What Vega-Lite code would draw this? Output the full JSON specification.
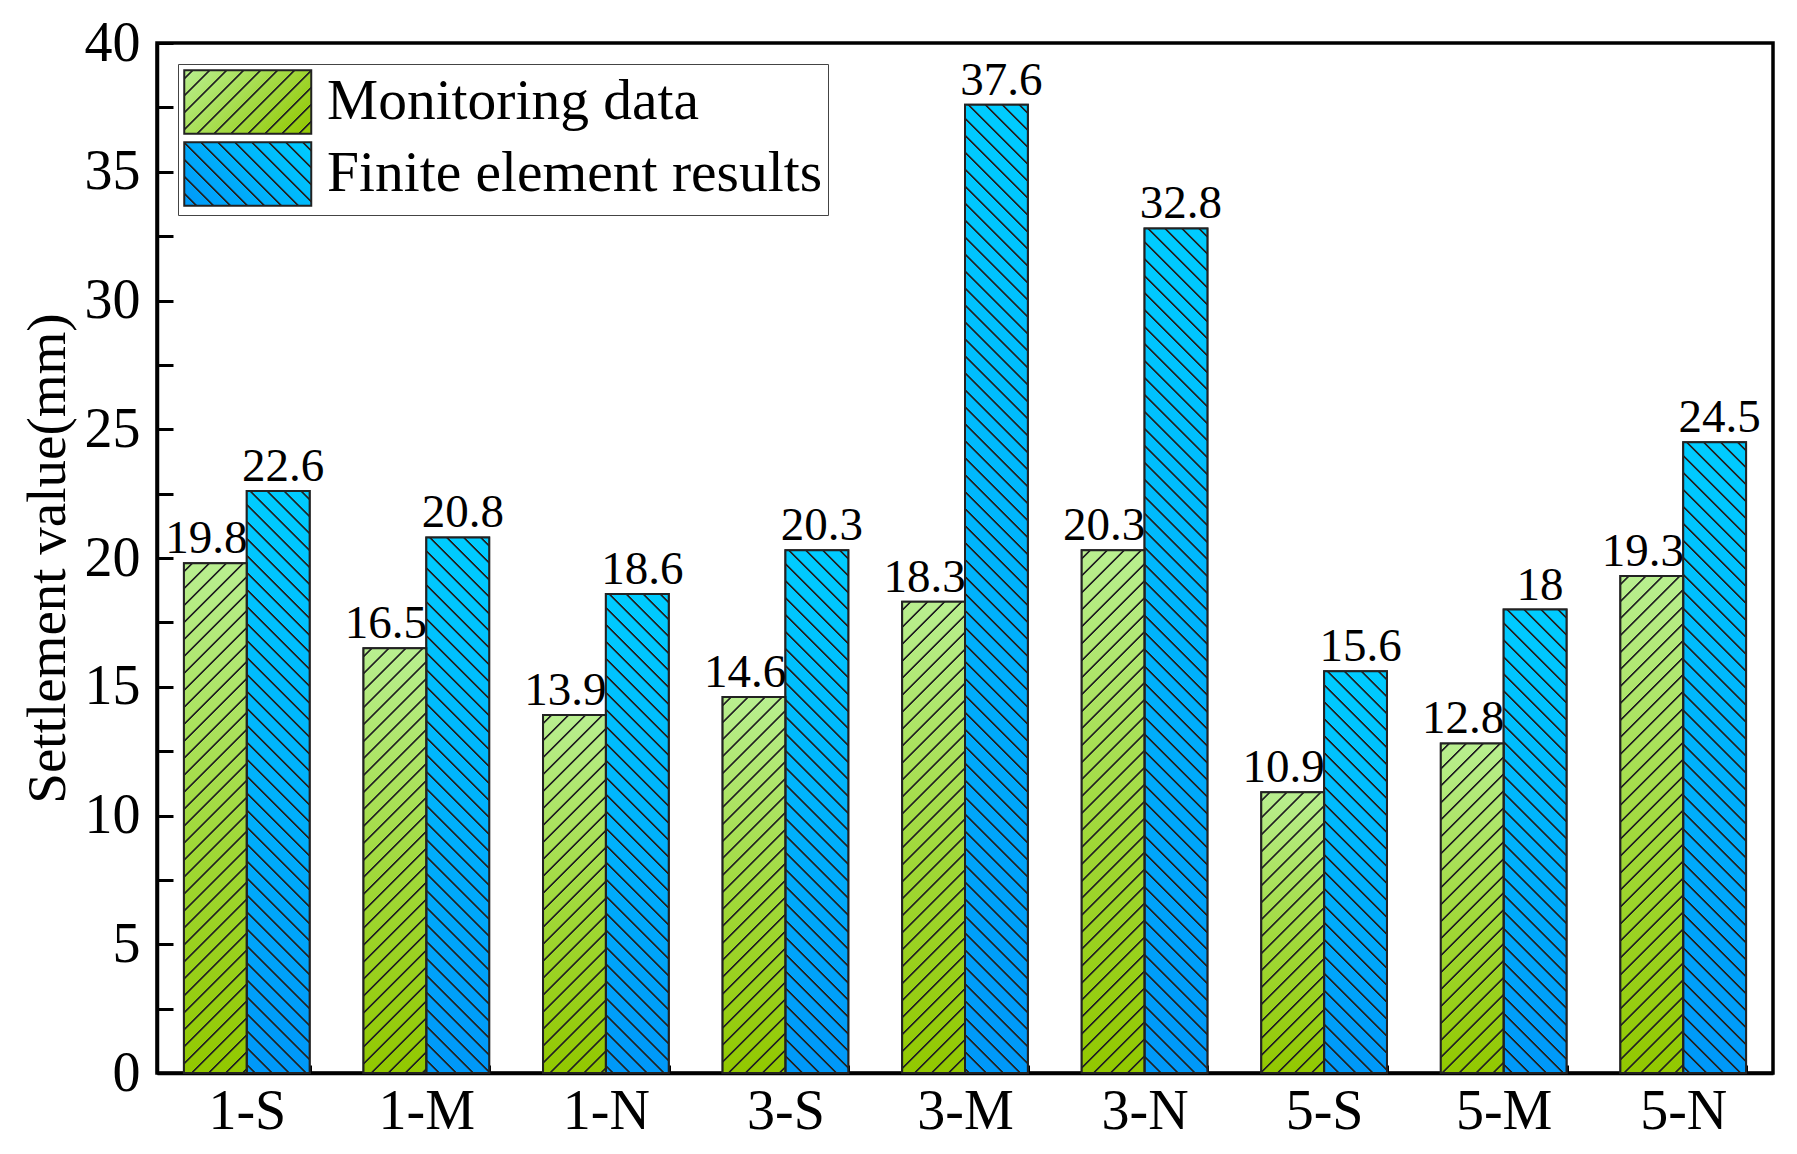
{
 "$schema": "https://vega.github.io/schema/vega-lite/v6.json",
 "width": 1616, "height": 1030,
 "autosize": {"type": "none"},
 "padding": {"left": 157, "top": 43, "right": 24, "bottom": 81},
 "background": "white",
 "config": {"font": "Liberation Serif", "view": {"stroke": "black", "strokeWidth": 3.5}},
 "params": [
  {"name": "hs", "value": [
{"offset":0.006,"color":"#2220"},{"offset":0.0069,"color":"#222"},{"offset":0.0081,"color":"#222"},{"offset":0.009,"color":"#2220"},
{"offset":0.021,"color":"#2220"},{"offset":0.0219,"color":"#222"},{"offset":0.0231,"color":"#222"},{"offset":0.024,"color":"#2220"},
{"offset":0.036,"color":"#2220"},{"offset":0.0369,"color":"#222"},{"offset":0.0381,"color":"#222"},{"offset":0.039,"color":"#2220"},
{"offset":0.051,"color":"#2220"},{"offset":0.0519,"color":"#222"},{"offset":0.0531,"color":"#222"},{"offset":0.054,"color":"#2220"},
{"offset":0.066,"color":"#2220"},{"offset":0.0669,"color":"#222"},{"offset":0.0681,"color":"#222"},{"offset":0.069,"color":"#2220"},
{"offset":0.081,"color":"#2220"},{"offset":0.0819,"color":"#222"},{"offset":0.0831,"color":"#222"},{"offset":0.084,"color":"#2220"},
{"offset":0.096,"color":"#2220"},{"offset":0.0969,"color":"#222"},{"offset":0.0981,"color":"#222"},{"offset":0.099,"color":"#2220"},
{"offset":0.111,"color":"#2220"},{"offset":0.1119,"color":"#222"},{"offset":0.1131,"color":"#222"},{"offset":0.114,"color":"#2220"},
{"offset":0.126,"color":"#2220"},{"offset":0.1269,"color":"#222"},{"offset":0.1281,"color":"#222"},{"offset":0.129,"color":"#2220"},
{"offset":0.141,"color":"#2220"},{"offset":0.1419,"color":"#222"},{"offset":0.1431,"color":"#222"},{"offset":0.144,"color":"#2220"},
{"offset":0.156,"color":"#2220"},{"offset":0.1569,"color":"#222"},{"offset":0.1581,"color":"#222"},{"offset":0.159,"color":"#2220"},
{"offset":0.171,"color":"#2220"},{"offset":0.1719,"color":"#222"},{"offset":0.1731,"color":"#222"},{"offset":0.174,"color":"#2220"},
{"offset":0.186,"color":"#2220"},{"offset":0.1869,"color":"#222"},{"offset":0.1881,"color":"#222"},{"offset":0.189,"color":"#2220"},
{"offset":0.201,"color":"#2220"},{"offset":0.2019,"color":"#222"},{"offset":0.2031,"color":"#222"},{"offset":0.204,"color":"#2220"},
{"offset":0.216,"color":"#2220"},{"offset":0.2169,"color":"#222"},{"offset":0.2181,"color":"#222"},{"offset":0.219,"color":"#2220"},
{"offset":0.231,"color":"#2220"},{"offset":0.2319,"color":"#222"},{"offset":0.2331,"color":"#222"},{"offset":0.234,"color":"#2220"},
{"offset":0.246,"color":"#2220"},{"offset":0.2469,"color":"#222"},{"offset":0.2481,"color":"#222"},{"offset":0.249,"color":"#2220"},
{"offset":0.261,"color":"#2220"},{"offset":0.2619,"color":"#222"},{"offset":0.2631,"color":"#222"},{"offset":0.264,"color":"#2220"},
{"offset":0.276,"color":"#2220"},{"offset":0.2769,"color":"#222"},{"offset":0.2781,"color":"#222"},{"offset":0.279,"color":"#2220"},
{"offset":0.291,"color":"#2220"},{"offset":0.2919,"color":"#222"},{"offset":0.2931,"color":"#222"},{"offset":0.294,"color":"#2220"},
{"offset":0.306,"color":"#2220"},{"offset":0.3069,"color":"#222"},{"offset":0.3081,"color":"#222"},{"offset":0.309,"color":"#2220"},
{"offset":0.321,"color":"#2220"},{"offset":0.3219,"color":"#222"},{"offset":0.3231,"color":"#222"},{"offset":0.324,"color":"#2220"},
{"offset":0.336,"color":"#2220"},{"offset":0.3369,"color":"#222"},{"offset":0.3381,"color":"#222"},{"offset":0.339,"color":"#2220"},
{"offset":0.351,"color":"#2220"},{"offset":0.3519,"color":"#222"},{"offset":0.3531,"color":"#222"},{"offset":0.354,"color":"#2220"},
{"offset":0.366,"color":"#2220"},{"offset":0.3669,"color":"#222"},{"offset":0.3681,"color":"#222"},{"offset":0.369,"color":"#2220"},
{"offset":0.381,"color":"#2220"},{"offset":0.3819,"color":"#222"},{"offset":0.3831,"color":"#222"},{"offset":0.384,"color":"#2220"},
{"offset":0.396,"color":"#2220"},{"offset":0.3969,"color":"#222"},{"offset":0.3981,"color":"#222"},{"offset":0.399,"color":"#2220"},
{"offset":0.411,"color":"#2220"},{"offset":0.4119,"color":"#222"},{"offset":0.4131,"color":"#222"},{"offset":0.414,"color":"#2220"},
{"offset":0.426,"color":"#2220"},{"offset":0.4269,"color":"#222"},{"offset":0.4281,"color":"#222"},{"offset":0.429,"color":"#2220"},
{"offset":0.441,"color":"#2220"},{"offset":0.4419,"color":"#222"},{"offset":0.4431,"color":"#222"},{"offset":0.444,"color":"#2220"},
{"offset":0.456,"color":"#2220"},{"offset":0.4569,"color":"#222"},{"offset":0.4581,"color":"#222"},{"offset":0.459,"color":"#2220"},
{"offset":0.471,"color":"#2220"},{"offset":0.4719,"color":"#222"},{"offset":0.4731,"color":"#222"},{"offset":0.474,"color":"#2220"},
{"offset":0.486,"color":"#2220"},{"offset":0.4869,"color":"#222"},{"offset":0.4881,"color":"#222"},{"offset":0.489,"color":"#2220"},
{"offset":0.501,"color":"#2220"},{"offset":0.5019,"color":"#222"},{"offset":0.5031,"color":"#222"},{"offset":0.504,"color":"#2220"},
{"offset":0.516,"color":"#2220"},{"offset":0.5169,"color":"#222"},{"offset":0.5181,"color":"#222"},{"offset":0.519,"color":"#2220"},
{"offset":0.531,"color":"#2220"},{"offset":0.5319,"color":"#222"},{"offset":0.5331,"color":"#222"},{"offset":0.534,"color":"#2220"},
{"offset":0.546,"color":"#2220"},{"offset":0.5469,"color":"#222"},{"offset":0.5481,"color":"#222"},{"offset":0.549,"color":"#2220"},
{"offset":0.561,"color":"#2220"},{"offset":0.5619,"color":"#222"},{"offset":0.5631,"color":"#222"},{"offset":0.564,"color":"#2220"},
{"offset":0.576,"color":"#2220"},{"offset":0.5769,"color":"#222"},{"offset":0.5781,"color":"#222"},{"offset":0.579,"color":"#2220"},
{"offset":0.591,"color":"#2220"},{"offset":0.5919,"color":"#222"},{"offset":0.5931,"color":"#222"},{"offset":0.594,"color":"#2220"},
{"offset":0.606,"color":"#2220"},{"offset":0.6069,"color":"#222"},{"offset":0.6081,"color":"#222"},{"offset":0.609,"color":"#2220"},
{"offset":0.621,"color":"#2220"},{"offset":0.6219,"color":"#222"},{"offset":0.6231,"color":"#222"},{"offset":0.624,"color":"#2220"},
{"offset":0.636,"color":"#2220"},{"offset":0.6369,"color":"#222"},{"offset":0.6381,"color":"#222"},{"offset":0.639,"color":"#2220"},
{"offset":0.651,"color":"#2220"},{"offset":0.6519,"color":"#222"},{"offset":0.6531,"color":"#222"},{"offset":0.654,"color":"#2220"},
{"offset":0.666,"color":"#2220"},{"offset":0.6669,"color":"#222"},{"offset":0.6681,"color":"#222"},{"offset":0.669,"color":"#2220"},
{"offset":0.681,"color":"#2220"},{"offset":0.6819,"color":"#222"},{"offset":0.6831,"color":"#222"},{"offset":0.684,"color":"#2220"},
{"offset":0.696,"color":"#2220"},{"offset":0.6969,"color":"#222"},{"offset":0.6981,"color":"#222"},{"offset":0.699,"color":"#2220"},
{"offset":0.711,"color":"#2220"},{"offset":0.7119,"color":"#222"},{"offset":0.7131,"color":"#222"},{"offset":0.714,"color":"#2220"},
{"offset":0.726,"color":"#2220"},{"offset":0.7269,"color":"#222"},{"offset":0.7281,"color":"#222"},{"offset":0.729,"color":"#2220"},
{"offset":0.741,"color":"#2220"},{"offset":0.7419,"color":"#222"},{"offset":0.7431,"color":"#222"},{"offset":0.744,"color":"#2220"},
{"offset":0.756,"color":"#2220"},{"offset":0.7569,"color":"#222"},{"offset":0.7581,"color":"#222"},{"offset":0.759,"color":"#2220"},
{"offset":0.771,"color":"#2220"},{"offset":0.7719,"color":"#222"},{"offset":0.7731,"color":"#222"},{"offset":0.774,"color":"#2220"},
{"offset":0.786,"color":"#2220"},{"offset":0.7869,"color":"#222"},{"offset":0.7881,"color":"#222"},{"offset":0.789,"color":"#2220"},
{"offset":0.801,"color":"#2220"},{"offset":0.8019,"color":"#222"},{"offset":0.8031,"color":"#222"},{"offset":0.804,"color":"#2220"},
{"offset":0.816,"color":"#2220"},{"offset":0.8169,"color":"#222"},{"offset":0.8181,"color":"#222"},{"offset":0.819,"color":"#2220"},
{"offset":0.831,"color":"#2220"},{"offset":0.8319,"color":"#222"},{"offset":0.8331,"color":"#222"},{"offset":0.834,"color":"#2220"},
{"offset":0.846,"color":"#2220"},{"offset":0.8469,"color":"#222"},{"offset":0.8481,"color":"#222"},{"offset":0.849,"color":"#2220"},
{"offset":0.861,"color":"#2220"},{"offset":0.8619,"color":"#222"},{"offset":0.8631,"color":"#222"},{"offset":0.864,"color":"#2220"},
{"offset":0.876,"color":"#2220"},{"offset":0.8769,"color":"#222"},{"offset":0.8781,"color":"#222"},{"offset":0.879,"color":"#2220"},
{"offset":0.891,"color":"#2220"},{"offset":0.8919,"color":"#222"},{"offset":0.8931,"color":"#222"},{"offset":0.894,"color":"#2220"},
{"offset":0.906,"color":"#2220"},{"offset":0.9069,"color":"#222"},{"offset":0.9081,"color":"#222"},{"offset":0.909,"color":"#2220"},
{"offset":0.921,"color":"#2220"},{"offset":0.9219,"color":"#222"},{"offset":0.9231,"color":"#222"},{"offset":0.924,"color":"#2220"},
{"offset":0.936,"color":"#2220"},{"offset":0.9369,"color":"#222"},{"offset":0.9381,"color":"#222"},{"offset":0.939,"color":"#2220"},
{"offset":0.951,"color":"#2220"},{"offset":0.9519,"color":"#222"},{"offset":0.9531,"color":"#222"},{"offset":0.954,"color":"#2220"},
{"offset":0.966,"color":"#2220"},{"offset":0.9669,"color":"#222"},{"offset":0.9681,"color":"#222"},{"offset":0.969,"color":"#2220"},
{"offset":0.981,"color":"#2220"},{"offset":0.9819,"color":"#222"},{"offset":0.9831,"color":"#222"},{"offset":0.984,"color":"#2220"},
{"offset":0.996,"color":"#2220"},{"offset":0.9969,"color":"#222"},{"offset":0.9981,"color":"#222"},{"offset":0.999,"color":"#2220"}
  ]},
  {"name": "lg", "value": [
{"offset":0,"color":"#b8ee8e"},
{"offset":0.0355,"color":"#b6ec88"},{"offset":0.0407,"color":"#222"},{"offset":0.0481,"color":"#222"},{"offset":0.0533,"color":"#b6ec88"},
{"offset":0.1244,"color":"#b3e97b"},{"offset":0.1296,"color":"#222"},{"offset":0.137,"color":"#222"},{"offset":0.1422,"color":"#b3e97b"},
{"offset":0.2133,"color":"#b0e66e"},{"offset":0.2185,"color":"#222"},{"offset":0.2259,"color":"#222"},{"offset":0.2311,"color":"#b0e66e"},
{"offset":0.3022,"color":"#ace262"},{"offset":0.3074,"color":"#222"},{"offset":0.3148,"color":"#222"},{"offset":0.32,"color":"#ace262"},
{"offset":0.3911,"color":"#a9df55"},{"offset":0.3963,"color":"#222"},{"offset":0.4037,"color":"#222"},{"offset":0.4089,"color":"#a9df55"},
{"offset":0.48,"color":"#a5db49"},{"offset":0.4852,"color":"#222"},{"offset":0.4926,"color":"#222"},{"offset":0.4978,"color":"#a5db49"},
{"offset":0.5689,"color":"#a2d83c"},{"offset":0.5741,"color":"#222"},{"offset":0.5815,"color":"#222"},{"offset":0.5867,"color":"#a2d83c"},
{"offset":0.6578,"color":"#9fd52f"},{"offset":0.663,"color":"#222"},{"offset":0.6704,"color":"#222"},{"offset":0.6756,"color":"#9fd52f"},
{"offset":0.7467,"color":"#9bd123"},{"offset":0.7519,"color":"#222"},{"offset":0.7593,"color":"#222"},{"offset":0.7645,"color":"#9bd123"},
{"offset":0.8355,"color":"#98ce16"},{"offset":0.8407,"color":"#222"},{"offset":0.8481,"color":"#222"},{"offset":0.8533,"color":"#98ce16"},
{"offset":0.9244,"color":"#94ca0a"},{"offset":0.9296,"color":"#222"},{"offset":0.937,"color":"#222"},{"offset":0.9422,"color":"#94ca0a"},
{"offset":1,"color":"#92c800"}
  ]},
  {"name": "lb", "value": [
{"offset":0,"color":"#00ccff"},
{"offset":0.0355,"color":"#00caff"},{"offset":0.0407,"color":"#222"},{"offset":0.0481,"color":"#222"},{"offset":0.0533,"color":"#00caff"},
{"offset":0.1244,"color":"#00c5fe"},{"offset":0.1296,"color":"#222"},{"offset":0.137,"color":"#222"},{"offset":0.1422,"color":"#00c5fe"},
{"offset":0.2133,"color":"#00c0fd"},{"offset":0.2185,"color":"#222"},{"offset":0.2259,"color":"#222"},{"offset":0.2311,"color":"#00c0fd"},
{"offset":0.3022,"color":"#00bcfd"},{"offset":0.3074,"color":"#222"},{"offset":0.3148,"color":"#222"},{"offset":0.32,"color":"#00bcfd"},
{"offset":0.3911,"color":"#00b7fc"},{"offset":0.3963,"color":"#222"},{"offset":0.4037,"color":"#222"},{"offset":0.4089,"color":"#00b7fc"},
{"offset":0.48,"color":"#00b3fc"},{"offset":0.4852,"color":"#222"},{"offset":0.4926,"color":"#222"},{"offset":0.4978,"color":"#00b3fc"},
{"offset":0.5689,"color":"#00aefb"},{"offset":0.5741,"color":"#222"},{"offset":0.5815,"color":"#222"},{"offset":0.5867,"color":"#00aefb"},
{"offset":0.6578,"color":"#00a9fa"},{"offset":0.663,"color":"#222"},{"offset":0.6704,"color":"#222"},{"offset":0.6756,"color":"#00a9fa"},
{"offset":0.7467,"color":"#00a5fa"},{"offset":0.7519,"color":"#222"},{"offset":0.7593,"color":"#222"},{"offset":0.7645,"color":"#00a5fa"},
{"offset":0.8355,"color":"#00a0f9"},{"offset":0.8407,"color":"#222"},{"offset":0.8481,"color":"#222"},{"offset":0.8533,"color":"#00a0f9"},
{"offset":0.9244,"color":"#009cf9"},{"offset":0.9296,"color":"#222"},{"offset":0.937,"color":"#222"},{"offset":0.9422,"color":"#009cf9"},
{"offset":1,"color":"#0098f8"}
  ]}
 ],
 "data": {"values": [
  {"loc": "1-S", "s": "Monitoring data", "v": 19.8},
  {"loc": "1-S", "s": "Finite element results", "v": 22.6},
  {"loc": "1-M", "s": "Monitoring data", "v": 16.5},
  {"loc": "1-M", "s": "Finite element results", "v": 20.8},
  {"loc": "1-N", "s": "Monitoring data", "v": 13.9},
  {"loc": "1-N", "s": "Finite element results", "v": 18.6},
  {"loc": "3-S", "s": "Monitoring data", "v": 14.6},
  {"loc": "3-S", "s": "Finite element results", "v": 20.3},
  {"loc": "3-M", "s": "Monitoring data", "v": 18.3},
  {"loc": "3-M", "s": "Finite element results", "v": 37.6},
  {"loc": "3-N", "s": "Monitoring data", "v": 20.3},
  {"loc": "3-N", "s": "Finite element results", "v": 32.8},
  {"loc": "5-S", "s": "Monitoring data", "v": 10.9},
  {"loc": "5-S", "s": "Finite element results", "v": 15.6},
  {"loc": "5-M", "s": "Monitoring data", "v": 12.8},
  {"loc": "5-M", "s": "Finite element results", "v": 18},
  {"loc": "5-N", "s": "Monitoring data", "v": 19.3},
  {"loc": "5-N", "s": "Finite element results", "v": 24.5}
 ]},
 "encoding": {
  "x": {"field": "loc", "type": "nominal", "sort": null,
        "scale": {"paddingInner": 0.3, "paddingOuter": 0.15},
        "axis": {"title": null, "labelAngle": 0, "labelFont": "Liberation Serif", "labelFontSize": 56, "labelColor": "black",
                 "labelPadding": 19, "tickBand": "extent", "tickSize": -8, "tickWidth": 3, "tickColor": "black",
                 "domainColor": "black", "domainWidth": 3.5, "grid": false}},
  "xOffset": {"field": "s", "type": "nominal", "sort": null},
  "y": {"field": "v", "type": "quantitative", "scale": {"domain": [0, 40], "nice": false},
        "axis": {"title": "Settlement value(mm)", "titleFont": "Liberation Serif", "titleFontSize": 55, "titleFontWeight": "normal",
                 "titleColor": "black", "titlePadding": 8,
                 "values": [0,2.5,5,7.5,10,12.5,15,17.5,20,22.5,25,27.5,30,32.5,35,37.5,40],
                 "labelExpr": "datum.value % 5 == 0 ? '' + datum.value : ''",
                 "labelFont": "Liberation Serif", "labelFontSize": 56, "labelColor": "black", "labelPadding": 33, "labelOverlap": false,
                 "tickSize": -16, "tickWidth": 3, "tickColor": "black", "domainColor": "black", "domainWidth": 3.5, "grid": false,
                 "encode": {"ticks": {"x2": {"value": {"expr": "datum.value % 5 == 0 ? 16 : 9"}}}}}}
 },
 "layer": [
  {"mark": {"type": "bar", "stroke": "#222", "strokeWidth": 2},
   "encoding": {"fill": {"field": "s", "type": "nominal", "sort": null,
     "scale": {"range": [
       {"expr": "{gradient:'linear',x1:0,y1:0,x2:1.2027,y2:0.6013,stops:lg}"},
       {"expr": "{gradient:'linear',x1:1,y1:0,x2:-0.2027,y2:0.6013,stops:lb}"}]},
     "legend": {"title": null, "orient": "top-left", "offset": 21, "padding": 5, "rowPadding": 0,
       "fillColor": "white", "strokeColor": "#444",
       "symbolType": "M-1,-1H3V1H-1Z", "symbolSize": 4032, "symbolStrokeWidth": 2, "symbolStrokeColor": "#222", "symbolOpacity": 1,
       "labelFont": "Liberation Serif", "labelFontSize": 57.5, "labelColor": "black", "labelOffset": 78, "labelLimit": 0,
       "encode": {"legend": {"strokeWidth": {"value": 2}}}}}}},
  {"mark": {"type": "bar"},
   "encoding": {"fill": {
     "condition": {"test": "datum.s == 'Monitoring data'",
       "value": {"gradient": "linear", "x1": 0, "y1": 0, "x2": 0, "y2": 1,
         "stops": [{"offset": 0, "color": "#b9ef90"}, {"offset": 0.55, "color": "#a0d838"}, {"offset": 1, "color": "#92c800"}]}},
     "value": {"gradient": "linear", "x1": 0, "y1": 0, "x2": 0, "y2": 1,
         "stops": [{"offset": 0, "color": "#00ccff"}, {"offset": 1, "color": "#0098f8"}]}}}},
  {"mark": {"type": "bar", "stroke": "#222", "strokeWidth": 2},
   "encoding": {"fill": {"value": {"expr": "datum.s == 'Monitoring data' ? {gradient:'linear',x1:0,y1:0,x2:62.8*1131.37/(3943.8+pow(datum.v*25.75,2)),y2:datum.v*25.75*1131.37/(3943.8+pow(datum.v*25.75,2)),stops:hs} : {gradient:'linear',x1:1,y1:0,x2:1-62.8*1131.37/(3943.8+pow(datum.v*25.75,2)),y2:datum.v*25.75*1131.37/(3943.8+pow(datum.v*25.75,2)),stops:hs}"}}}},
  {"transform": [{"filter": "datum.s == 'Monitoring data'"}],
   "mark": {"type": "text", "font": "Liberation Serif", "fontSize": 47, "baseline": "alphabetic", "dy": -10, "dx": -9, "color": "black"},
   "encoding": {"text": {"field": "v", "type": "quantitative"}}},
  {"transform": [{"filter": "datum.s == 'Finite element results'"}],
   "mark": {"type": "text", "font": "Liberation Serif", "fontSize": 47, "baseline": "alphabetic", "dy": -10, "dx": 5, "color": "black"},
   "encoding": {"text": {"field": "v", "type": "quantitative"}}}
 ]
}
